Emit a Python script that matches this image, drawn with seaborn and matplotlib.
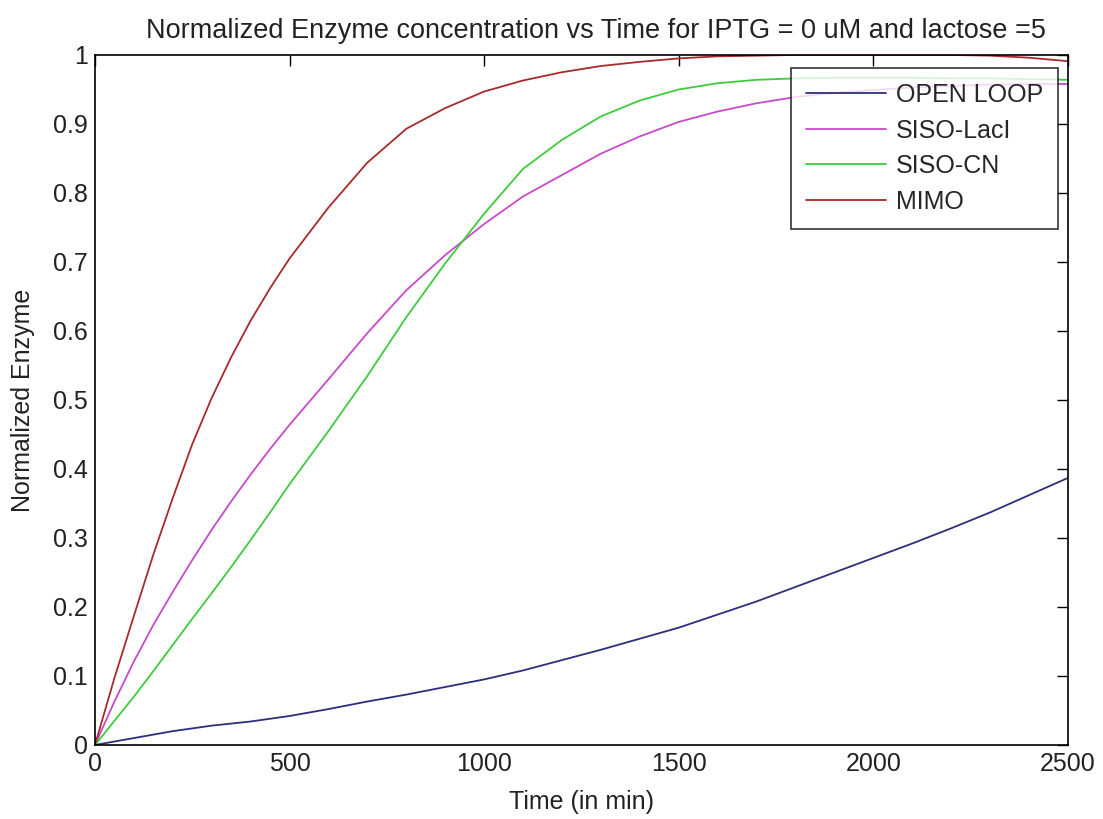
import matplotlib
matplotlib.use("Agg")
import matplotlib.pyplot as plt
import pandas as pd
import seaborn as sns
from matplotlib.ticker import FuncFormatter

# time grid (min)
time = [0, 50, 100, 150, 200, 250, 300, 350, 400, 450, 500, 600, 700, 800,
        900, 1000, 1100, 1200, 1300, 1400, 1500, 1600, 1700, 1800, 1900,
        2000, 2100, 2200, 2300, 2400, 2500]

open_loop = [0, 0.005, 0.010, 0.015, 0.020, 0.024, 0.028, 0.031, 0.034, 0.038,
             0.042, 0.052, 0.063, 0.073, 0.084, 0.095, 0.108, 0.123, 0.138,
             0.154, 0.170, 0.189, 0.208, 0.229, 0.250, 0.271, 0.292, 0.314,
             0.337, 0.362, 0.387]
siso_laci = [0, 0.063, 0.121, 0.174, 0.222, 0.268, 0.312, 0.353, 0.392, 0.429,
             0.464, 0.53, 0.597, 0.659, 0.71, 0.755, 0.795, 0.826, 0.857,
             0.882, 0.903, 0.918, 0.930, 0.939, 0.945, 0.949, 0.953, 0.955,
             0.957, 0.958, 0.958]
siso_cn = [0, 0.035, 0.07, 0.107, 0.145, 0.183, 0.22, 0.258, 0.297, 0.337,
           0.378, 0.455, 0.535, 0.62, 0.698, 0.77, 0.835, 0.877, 0.911,
           0.934, 0.95, 0.959, 0.964, 0.966, 0.967, 0.967, 0.967, 0.966,
           0.966, 0.965, 0.964]
mimo = [0, 0.097, 0.187, 0.276, 0.358, 0.436, 0.503, 0.562, 0.615, 0.662,
        0.705, 0.779, 0.844, 0.893, 0.923, 0.947, 0.963, 0.975, 0.984,
        0.990, 0.995, 0.998, 0.999, 1.0, 1.0, 1.0, 1.0, 1.0, 0.999, 0.996,
        0.991]

series = {"OPEN LOOP": open_loop, "SISO-LacI": siso_laci,
          "SISO-CN": siso_cn, "MIMO": mimo}
colors = {"OPEN LOOP": "#2e2e7a", "SISO-LacI": "#c84ac8",
          "SISO-CN": "#3ccc3c", "MIMO": "#a82a2a"}

rows = []
for name, vals in series.items():
    for t, v in zip(time, vals):
        rows.append({"Time": t, "Enzyme": v, "Model": name})
df = pd.DataFrame(rows)

sns.set_style("white")
plt.rcParams['font.family'] = ['Liberation Sans', 'DejaVu Sans']

fig = plt.figure(figsize=(11.03, 8.19), dpi=100)
ax = fig.add_axes([0.0861, 0.0904, 0.8821, 0.8425])

sns.lineplot(data=df, x="Time", y="Enzyme", hue="Model", palette=colors,
             linewidth=1.3, ax=ax)

ax.set_xlim(0, 2500)
ax.set_ylim(0, 1)
ax.set_xticks([0, 500, 1000, 1500, 2000, 2500])
ax.set_yticks([i / 10 for i in range(11)])
ax.yaxis.set_major_formatter(FuncFormatter(lambda v, p: "%g" % round(v, 1)))
ax.tick_params(direction="in", top=True, right=True, length=8, width=1,
               labelsize=18, color="black", labelcolor="#222222", pad=5)
for s in ax.spines.values():
    s.set_color("black")
    s.set_linewidth(1.2)

ax.set_xlabel("Time (in min)", fontsize=18, color="#222222", labelpad=10)
ax.set_ylabel("Normalized Enzyme", fontsize=18, color="#222222", labelpad=13)
ax.set_title("Normalized Enzyme concentration vs Time for IPTG = 0 uM and lactose =5",
             fontsize=19.5, color="#222222", pad=12, x=0.515)

leg = ax.legend(loc="upper right", bbox_to_anchor=(0.9897, 0.981),
                borderaxespad=0, fontsize=18, frameon=True, fancybox=False,
                edgecolor="black", handlelength=3.2, handletextpad=0.4,
                labelspacing=0.46, borderpad=0.6)
leg.get_frame().set_linewidth(1.2)

fig.savefig("out.png", dpi=100, facecolor="white")
